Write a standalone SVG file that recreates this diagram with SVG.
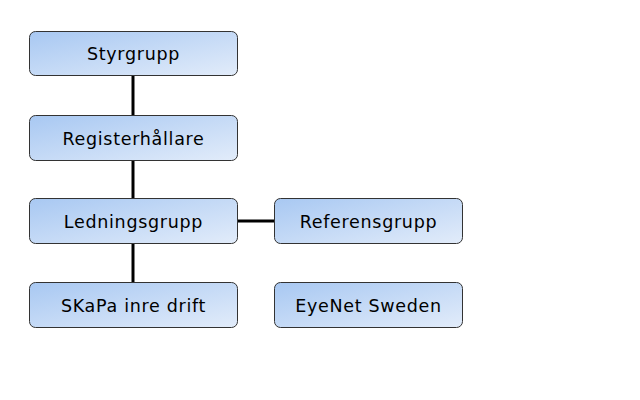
<svg xmlns="http://www.w3.org/2000/svg" width="640" height="400" viewBox="0 0 640 400">
<defs>
<linearGradient id="g" x1="0" y1="0" x2="1" y2="1">
<stop offset="0" stop-color="#a8c8f2"/>
<stop offset="1" stop-color="#e2ecfa"/>
</linearGradient>
<style>
.n rect{fill:url(#g);stroke:#333;stroke-width:1}
.n text{font-family:"DejaVu Sans",Verdana,sans-serif;font-size:17.5px;letter-spacing:0.7px;fill:#000;text-anchor:middle}
.c line{stroke:#000;stroke-width:3}
</style>
</defs>
<rect width="640" height="400" fill="#fff"/>
<g id="connectors" class="c">
<line x1="133" y1="75" x2="133" y2="116"/>
<line x1="133" y1="160" x2="133" y2="199"/>
<line x1="133" y1="243" x2="133" y2="282"/>
<line x1="237" y1="221" x2="274" y2="221"/>
</g>
<g id="styrgrupp" class="n"><rect x="29.5" y="31.5" width="208" height="44" rx="6"/><text x="133.5" y="60">Styrgrupp</text></g>
<g id="registerhallare" class="n"><rect x="29.5" y="115.5" width="208" height="45" rx="6"/><text x="133.5" y="145">Registerhållare</text></g>
<g id="ledningsgrupp" class="n"><rect x="29.5" y="198.5" width="208" height="45" rx="6"/><text x="133.5" y="228">Ledningsgrupp</text></g>
<g id="referensgrupp" class="n"><rect x="274.5" y="198.5" width="188" height="45" rx="6"/><text x="368.5" y="228">Referensgrupp</text></g>
<g id="skapa" class="n"><rect x="29.5" y="282.5" width="208" height="45" rx="6"/><text x="133.5" y="312">SKaPa inre drift</text></g>
<g id="eyenet" class="n"><rect x="274.5" y="282.5" width="188" height="45" rx="6"/><text x="368.5" y="312">EyeNet Sweden</text></g>
</svg>
